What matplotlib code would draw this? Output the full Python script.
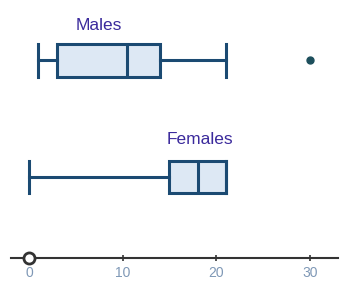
import matplotlib.pyplot as plt

# box plot summaries
groups = ['Males', 'Females']
whislo = [1, 0]
q1 = [3, 15]
med = [10.5, 18]
q3 = [14, 21]
whishi = [21, 21]
fliers = [[30], []]
ticks = [0, 10, 20, 30]

navy = '#1b4a72'
fill = '#dde8f4'

fig = plt.figure(figsize=(3.5, 2.94), dpi=100)
# axes bottom spine is the number line
ax = fig.add_axes([11 / 350, 36 / 294, 327 / 350, 258 / 294])
ax.set_xlim(-1.92, 32.99)
ax.set_ylim(258, 0)

stats = []
for i in range(len(groups)):
    stats.append(dict(label=groups[i], whislo=whislo[i], q1=q1[i], med=med[i],
                      q3=q3[i], whishi=whishi[i], fliers=fliers[i]))

pos = [60, 177]
wid = [33, 32]
ax.bxp(stats, positions=pos, widths=wid, capwidths=wid,
       orientation='horizontal', patch_artist=True, manage_ticks=False,
       boxprops=dict(facecolor=fill, edgecolor=navy, linewidth=2.2),
       medianprops=dict(color=navy, linewidth=2.2),
       whiskerprops=dict(color=navy, linewidth=2.2),
       capprops=dict(color=navy, linewidth=2.2),
       flierprops=dict(marker='o', markerfacecolor='#1d4f5c',
                       markeredgecolor='#1d4f5c', markersize=5))

# group labels
ax.text(7.5, 25, 'Males', ha='center', va='center', fontsize=12.5,
        color='#3b2a9c', family='Liberation Sans')
ax.text(18.2, 140, 'Females', ha='center', va='center', fontsize=12.5,
        color='#3b2a9c', family='Liberation Sans')

# open circle at zero on the number line
ax.plot([0], [258], marker='o', markersize=8, markerfacecolor='white',
        markeredgecolor='#333333', markeredgewidth=2, clip_on=False, zorder=5)

for s in ['top', 'left', 'right']:
    ax.spines[s].set_visible(False)
ax.spines['bottom'].set_color('#333333')
ax.spines['bottom'].set_linewidth(1.5)
ax.set_yticks([])
ax.set_xticks(ticks)
ax.tick_params(axis='x', direction='inout', length=4.5, width=1.2,
               color='#333333', labelcolor='#7f98b6', labelsize=10, pad=3.5)
for t in ax.get_xticklabels():
    t.set_family('Liberation Sans')
ax.patch.set_alpha(0)

fig.savefig('out.png', dpi=100)
